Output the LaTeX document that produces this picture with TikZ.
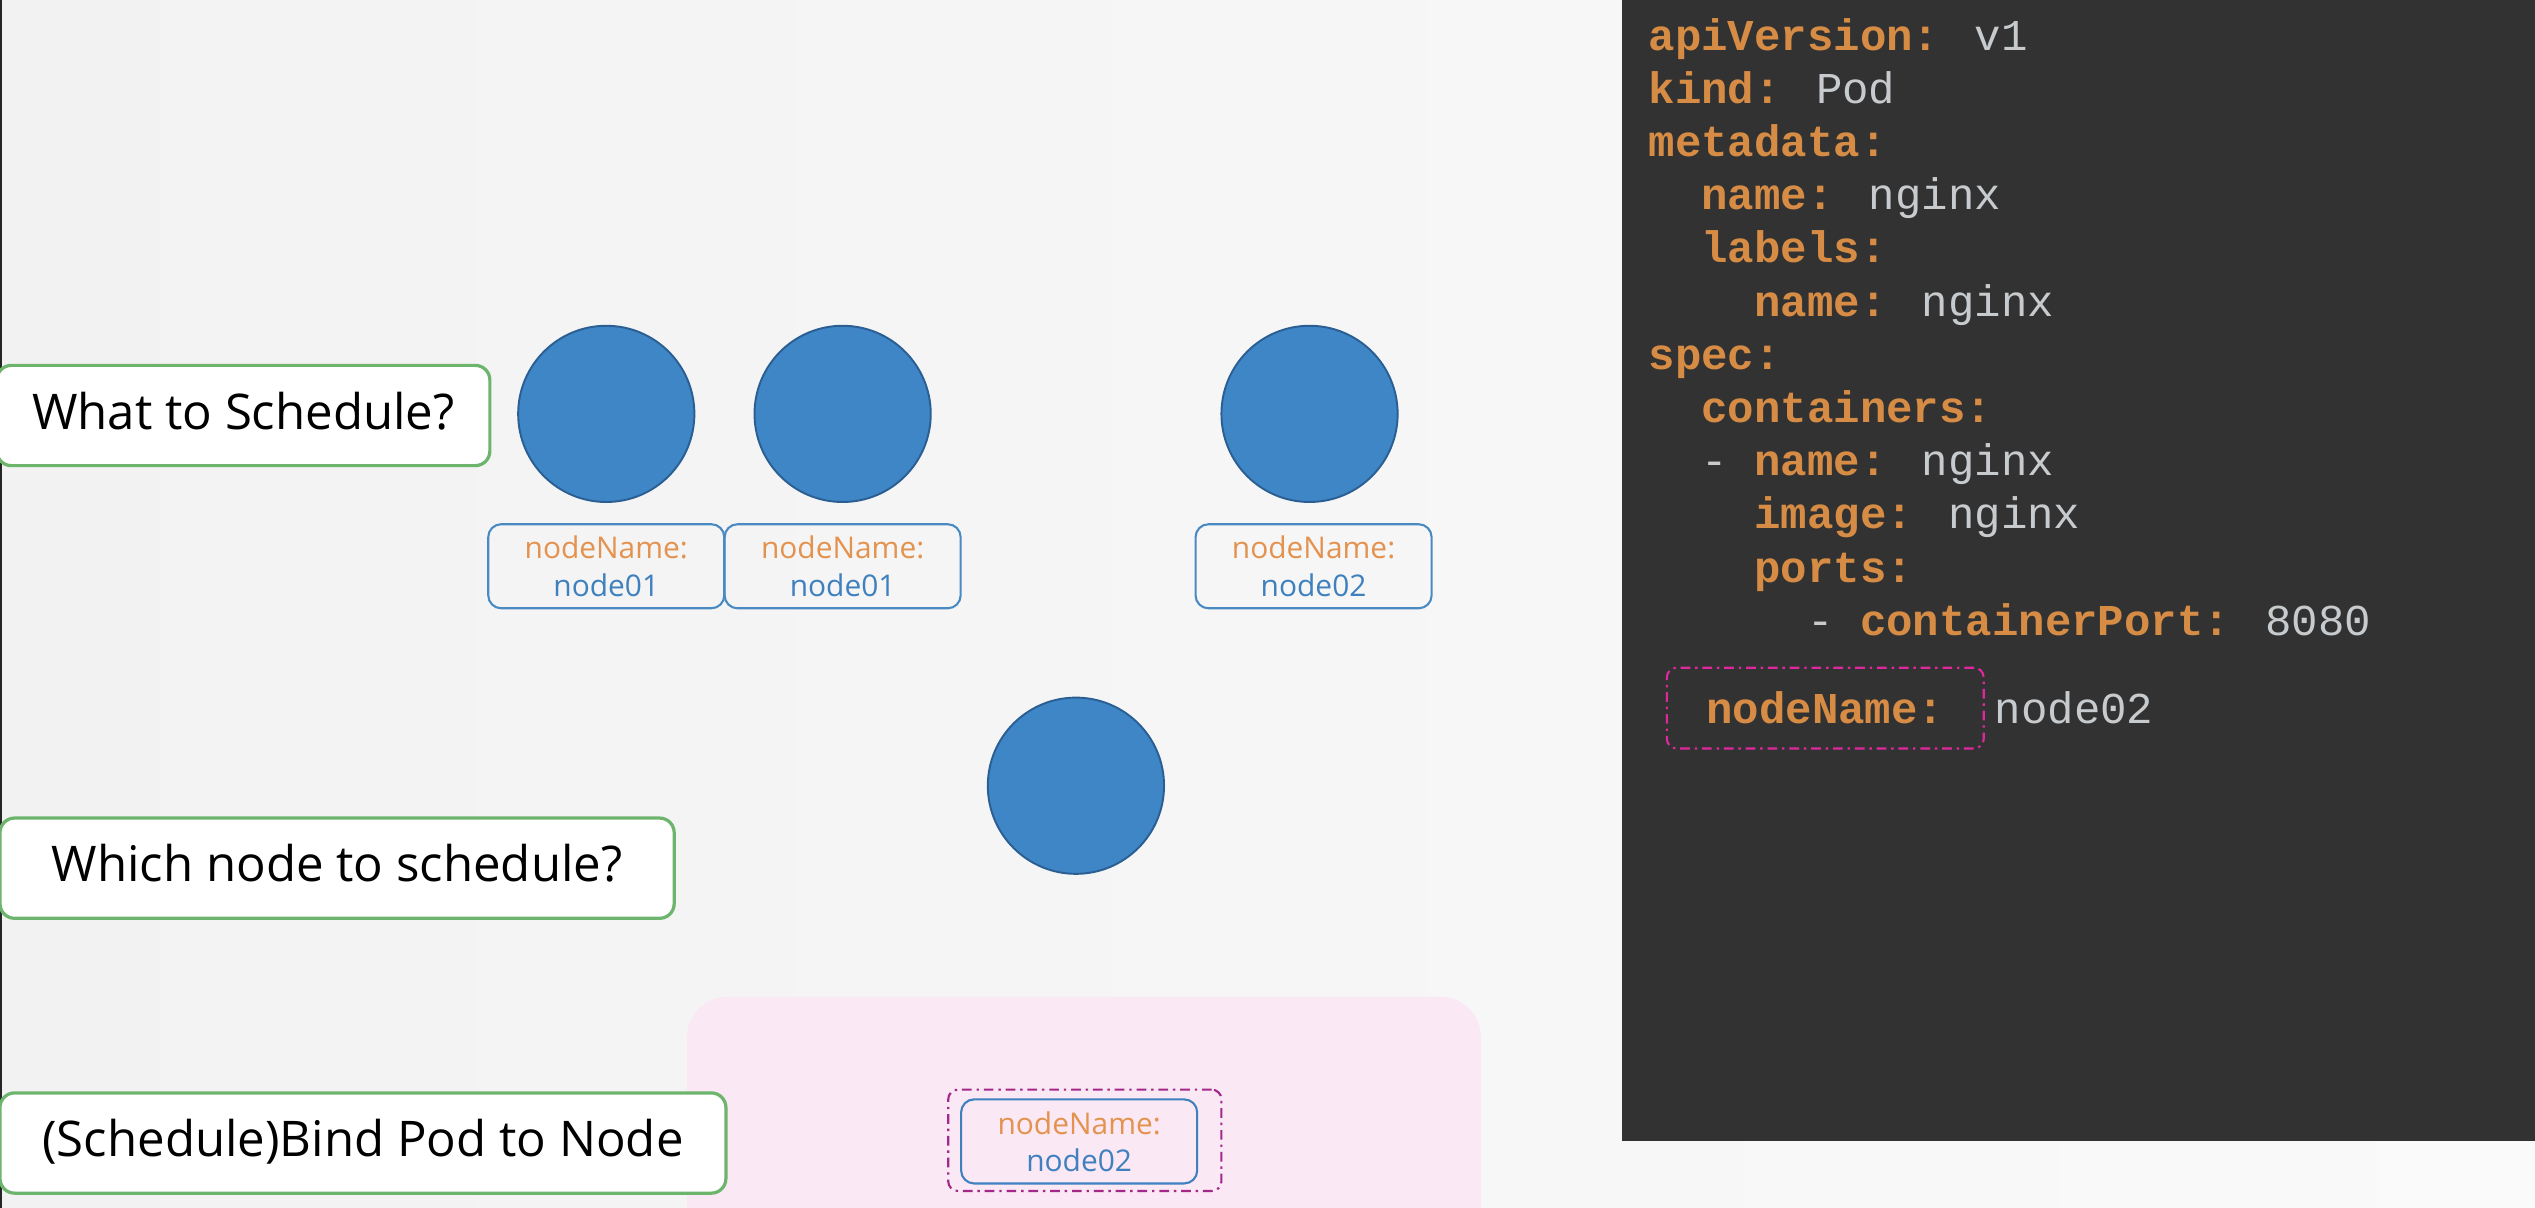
\documentclass[tikz,border=0pt]{standalone}
\usepackage{xcolor}
\usepackage{fontspec}
\setmainfont{Open Sans}
\newfontfamily\codefont{Liberation Mono}
\usepackage{tikz}
\usetikzlibrary{positioning}

\definecolor{bgleft}{HTML}{F2F2F2}
\definecolor{bgright}{HTML}{FAFAFA}
\definecolor{podblue}{HTML}{3E86C6}
\definecolor{podedge}{HTML}{2B5F93}
\definecolor{boxblue}{HTML}{4A8AC2}
\definecolor{nameorange}{HTML}{E3934F}
\definecolor{nodeblue}{HTML}{3F80BF}
\definecolor{stepgreen}{HTML}{6DB56D}
\definecolor{bindpink}{HTML}{FAE8F4}
\definecolor{bindmagenta}{HTML}{A3288A}
\definecolor{panelgrey}{HTML}{323232}
\definecolor{keyorange}{HTML}{D68C45}
\definecolor{valgrey}{HTML}{C8CBCE}
\definecolor{selmagenta}{HTML}{E0289E}

\newcommand{\yamlkey}[1]{{\bfseries\color{keyorange}#1}}
\newcommand{\yamlval}[1]{{\color{valgrey}#1}}
\newcommand{\podname}[1]{\textcolor{nameorange}{nodeName:}\\\textcolor{nodeblue}{#1}}

\tikzset{
  pod/.style={circle, draw=podedge, line width=1.2pt, fill=podblue, minimum size=109pt, inner sep=0pt},
  namebox/.style={draw=boxblue, line width=1.3pt, rounded corners=8pt, minimum width=146pt, minimum height=52pt,
    align=center, font=\fontsize{18.5}{23}\selectfont, inner sep=0pt},
  stepbox/.style={draw=stepgreen, line width=2pt, fill=white, rounded corners=9pt, minimum height=62pt,
    font=\fontsize{30.4}{36}\selectfont, text height=23pt, text depth=6pt, inner sep=0pt},
  codeline/.style={anchor=base west, inner sep=0pt, font=\codefont\fontsize{27.25}{32}\selectfont},
  selbox/.style={draw=selmagenta, line width=1.3pt, rounded corners=6pt, dash pattern=on 6pt off 3pt on 1.5pt off 3pt},
}

\begin{document}
\begin{tikzpicture}[x=1pt,y=-1pt]
		\useasboundingbox (0,0) rectangle (1568,747);
		\shade[left color=bgleft, right color=bgright] (0,0) rectangle (1568,747);
		\fill[bindpink, rounded corners=25pt] (425,616.5) rectangle (916,780);
		\draw[line width=1.2pt, black!85] (0.6,0) -- (0.6,747);
		
		% steps
		\node[stepbox, minimum width=305pt] (what) at (150.5,257) {What to Schedule?};
		\node[stepbox, minimum width=417pt] (which) at (208.5,537) {Which node to schedule?};
		\node[stepbox, minimum width=449pt] (bindstep) at (224.5,707) {(Schedule)Bind Pod to Node};
		
		% pods
		\node[pod] (pod1) at (375,256) {};
		\node[pod] (pod2) [right = 36pt of pod1] {};
		\node[pod] (pod3) at (810,256) {};
		\node[pod] (pod4) at (665.5,486) {};
		
		\node[namebox] (name1) [below = 12.5pt of pod1] {\podname{node01}};
		\node[namebox] (name2) [below = 12.5pt of pod2] {\podname{node01}};
		\node[namebox] (name3) [below = 12.5pt of pod3, xshift=2.5pt] {\podname{node02}};
		
		\node[namebox, draw=nodeblue] (bind) at (667.5,706) {\podname{node02}};
		\node[selbox, draw=bindmagenta, minimum width=169pt, minimum height=62.7pt] (bindsel) at (671,705.3) {};
		
		% pod definition
		\fill[panelgrey] (1003,0) rectangle (1568,706);
		\node[codeline] (apiv) at (1019.5,31) {\yamlkey{apiVersion:} \yamlval{v1}};
		\node[codeline] (kind) at (1019.5,63.9) {\yamlkey{kind:} \yamlval{Pod}};
		\node[codeline] (meta) at (1019.5,96.8) {\yamlkey{metadata:}};
		\node[codeline] (mname) at (1052.2,129.7) {\yamlkey{name:} \yamlval{nginx}};
		\node[codeline] (labels) at (1052.2,162.6) {\yamlkey{labels:}};
		\node[codeline] (lname) at (1084.9,195.5) {\yamlkey{name:} \yamlval{nginx}};
		\node[codeline] (spec) at (1019.5,228.4) {\yamlkey{spec:}};
		\node[codeline] (conts) at (1052.2,261.3) {\yamlkey{containers:}};
		\node[codeline] (cname) at (1052.2,294.2) {\yamlval{-} \yamlkey{name:} \yamlval{nginx}};
		\node[codeline] (image) at (1084.9,327.1) {\yamlkey{image:} \yamlval{nginx}};
		\node[codeline] (ports) at (1084.9,360) {\yamlkey{ports:}};
		\node[codeline] (cport) at (1117.6,392.9) {\yamlval{-} \yamlkey{containerPort:} \yamlval{8080}};
		
		\node[selbox, minimum width=196pt, minimum height=50pt, font=\codefont\fontsize{27.25}{32}\selectfont] (selkey) at (1129,438) {\yamlkey{nodeName:}};
		\node[codeline] (selval) [right = 6pt of selkey] {\yamlval{node02}};
\end{tikzpicture}
\end{document}
